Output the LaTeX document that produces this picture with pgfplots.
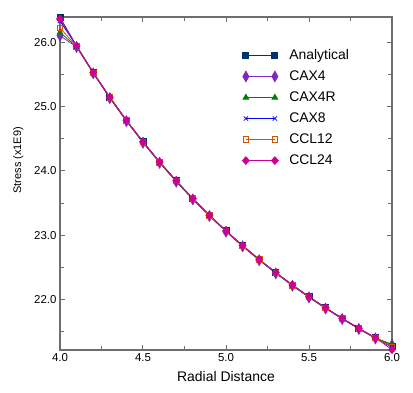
\documentclass[border=0pt]{standalone}
\usepackage{fontspec}
\setmainfont{Liberation Sans}
\usepackage{pgfplots}
\usepackage{pgfplotstable}
\pgfplotsset{compat=1.18}
\definecolor{cAn}{RGB}{0,51,102}
\definecolor{cCAXfour}{RGB}{125,40,190}
\definecolor{cCAXfourR}{RGB}{0,128,0}
\definecolor{cCAXeight}{RGB}{0,0,255}
\definecolor{cCCLtw}{RGB}{210,85,0}
\definecolor{cCCLtf}{RGB}{205,0,150}
\definecolor{axgray}{RGB}{110,110,110}
\pgfplotstableread{
x   an      cax4    cax4r   cax8    ccl12   ccl24
4.0 26.385  26.100  26.150  26.330  26.220  26.360
4.1 25.941  25.925  25.930  25.938  25.935  25.940
4.2 25.529  25.515  25.520  25.527  25.525  25.529
4.3 25.145  25.130  25.138  25.143  25.142  25.145
4.4 24.787  24.772  24.780  24.785  24.784  24.787
4.5 24.453  24.438  24.446  24.451  24.450  24.453
4.6 24.140  24.126  24.133  24.138  24.137  24.140
4.7 23.847  23.833  23.840  23.845  23.844  23.847
4.8 23.572  23.558  23.566  23.570  23.569  23.572
4.9 23.313  23.300  23.307  23.311  23.310  23.313
5.0 23.070  23.057  23.064  23.068  23.067  23.070
5.1 22.842  22.829  22.836  22.840  22.839  22.842
5.2 22.626  22.614  22.620  22.624  22.623  22.626
5.3 22.422  22.410  22.416  22.420  22.419  22.422
5.4 22.230  22.218  22.225  22.228  22.227  22.230
5.5 22.048  22.036  22.043  22.046  22.045  22.048
5.6 21.875  21.864  21.870  21.873  21.872  21.875
5.7 21.712  21.701  21.707  21.710  21.709  21.712
5.8 21.557  21.546  21.553  21.555  21.554  21.557
5.9 21.410  21.400  21.406  21.408  21.407  21.410
6.0 21.270  21.300  21.310  21.260  21.270  21.225
}\datatable
\begin{document}
\begin{tikzpicture}
\begin{axis}[
  at={(0,0)}, anchor=south west,
  scale only axis, width=332bp, height=333bp,
  xmin=4.0, xmax=6.0, ymin=21.22, ymax=26.39,
  xtick={4.0,4.5,5.0,5.5,6.0},
  xticklabels={4.0,4.5,5.0,5.5,6.0},
  ytick={22,23,24,25,26},
  yticklabels={22.0,23.0,24.0,25.0,26.0},
  minor xtick={4.25,4.75,5.25,5.75},
  minor ytick={21.5,22.5,23.5,24.5,25.5},
  tick align=inside,
  major tick length=5bp, minor tick length=4bp,
  every tick/.style={axgray, line width=1bp},
  axis line style={axgray, line width=1.3bp},
  tick label style={font=\fontsize{11.5}{12}\selectfont, black},
  /pgf/number format/assume math mode=true,
  xlabel={Radial Distance}, ylabel={Stress (x1E9)},
  xlabel style={font=\fontsize{14}{15}\selectfont, yshift=-3bp},
  ylabel style={font=\fontsize{11}{12}\selectfont, at={(ticklabel cs:0.57)}, yshift=4bp},
  clip=false,
  legend style={draw=none, fill=none, at={(0.54,0.915)}, anchor=north west,
    font=\fontsize{14}{15}\selectfont, row sep=5.8bp,
    /tikz/every odd column/.append style={column sep=9bp}},
  legend cell align=left,
  legend image code/.code={\draw[#1] plot coordinates {(0bp,0bp) (29bp,0bp)};},
  every axis plot/.append style={line width=0.8bp},
]
\addplot[cAn, mark=square*, mark size=3bp] table[x=x,y=an] {\datatable};
\addlegendentry{Analytical}
\addplot[cCAXfour, mark=diamond*, mark size=5.3bp, mark options={xscale=0.75}] table[x=x,y=cax4] {\datatable};
\addlegendentry{CAX4}
\addplot[cCAXfourR, mark=triangle*, mark size=3.2bp] table[x=x,y=cax4r] {\datatable};
\addlegendentry{CAX4R}
\addplot[cCAXeight, mark=x, mark size=3bp] table[x=x,y=cax8] {\datatable};
\addlegendentry{CAX8}
\addplot[cCCLtw, mark=square, mark size=2.8bp] table[x=x,y=ccl12] {\datatable};
\addlegendentry{CCL12}
\addplot[cCCLtf, mark=diamond*, mark size=3.8bp, mark options={xscale=1.2}] table[x=x,y=ccl24] {\datatable};
\addlegendentry{CCL24}
\end{axis}
\pgfresetboundingbox
\path (-60bp,-43bp) rectangle (353bp,350bp);
\end{tikzpicture}
\end{document}
